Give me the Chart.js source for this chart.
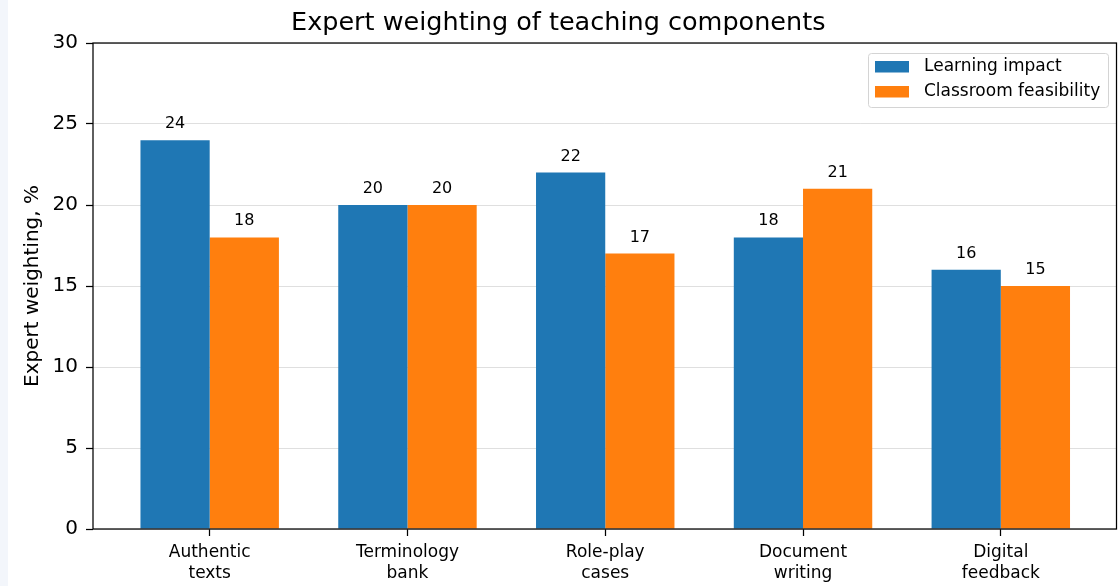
<!DOCTYPE html>
<html>
<head>
<meta charset="utf-8">
<script src="https://cdn.jsdelivr.net/npm/chart.js@4.4.1/dist/chart.umd.min.js"></script>
<style>
  html, body { margin: 0; padding: 0; }
  body { background: linear-gradient(to right, #f3f6fb 0 8px, #fff 8px); }
  #wrap { width: 1118px; height: 586px; }
</style>
</head>
<body>
<div id="wrap"><canvas id="chart"></canvas></div>
<script>
// Chart data
const categories = [['Authentic', 'texts'], ['Terminology', 'bank'], ['Role-play', 'cases'], ['Document', 'writing'], ['Digital', 'feedback']];
const learningImpact = [24, 20, 22, 18, 16];
const classroomFeasibility = [18, 20, 17, 21, 15];
const yTicks = [0, 5, 10, 15, 20, 25, 30];

const FONT = "'DejaVu Sans', sans-serif";

// value labels above each bar
const barLabels = {
    id: 'barLabels',
    afterDatasetsDraw(chart) {
        const ctx = chart.ctx;
        ctx.save();
        ctx.font = '16px ' + FONT;
        ctx.fillStyle = '#000';
        ctx.textAlign = 'center';
        ctx.textBaseline = 'alphabetic';
        chart.data.datasets.forEach((ds, i) => {
            chart.getDatasetMeta(i).data.forEach((bar, j) => {
                ctx.fillText(String(ds.data[j].y), bar.x, bar.y - 12);
            });
        });
        ctx.restore();
    }
};

// axes frame + legend box in the upper right
const frameAndLegend = {
    id: 'frameAndLegend',
    afterDraw(chart) {
        const ctx = chart.ctx;
        const a = chart.chartArea;
        ctx.save();
        ctx.strokeStyle = '#000';
        ctx.lineWidth = 1.25;
        ctx.strokeRect(a.left, a.top, a.right - a.left, a.bottom - a.top);

        // legend
        const x = 868.5, y = 53.5, w = 240, h = 54, r = 3;
        ctx.beginPath();
        ctx.roundRect(x, y, w, h, r);
        ctx.fillStyle = 'rgba(255,255,255,0.8)';
        ctx.fill();
        ctx.strokeStyle = '#d4d4d4';
        ctx.lineWidth = 1;
        ctx.stroke();
        ctx.font = '17px ' + FONT;
        ctx.textBaseline = 'middle';
        ctx.textAlign = 'left';
        chart.data.datasets.forEach((ds, i) => {
            const rowY = 66.5 + i * 25;
            ctx.fillStyle = ds.backgroundColor;
            ctx.fillRect(875, rowY - 5.5, 34, 11.5);
            ctx.fillStyle = '#000';
            ctx.fillText(ds.label, 924, rowY);
        });
        ctx.restore();
    }
};

new Chart(document.getElementById('chart'), {
    type: 'bar',
    data: {
        datasets: [
            {
                label: 'Learning impact',
                data: learningImpact.map((v, i) => ({ x: i, y: v })),
                backgroundColor: '#1f77b4'
            },
            {
                label: 'Classroom feasibility',
                data: classroomFeasibility.map((v, i) => ({ x: i, y: v })),
                backgroundColor: '#ff7f0e'
            }
        ]
    },
    options: {
        responsive: true,
        maintainAspectRatio: false,
        animation: false,
        categoryPercentage: 0.7,
        barPercentage: 1.0,
        layout: { padding: { left: 0, right: 1.5, top: 0, bottom: 0 } },
        plugins: {
            legend: { display: false },
            tooltip: { enabled: false },
            title: {
                display: true,
                text: 'Expert weighting of teaching components',
                color: '#000',
                font: { family: FONT, size: 25.5, weight: 'normal' },
                padding: { top: 8, bottom: 4.4 }
            }
        },
        scales: {
            x: {
                type: 'linear',
                offset: false,
                min: -0.59,
                max: 4.585,
                afterBuildTicks: axis => { axis.ticks = categories.map((_, i) => ({ value: i })); },
                afterFit: scale => { scale.height = 57; },
                border: { display: false },
                grid: { offset: false, drawOnChartArea: false, drawTicks: true, tickLength: 7, tickColor: '#000', tickWidth: 1.25 },
                ticks: {
                    color: '#000',
                    padding: 6.5,
                    maxRotation: 0,
                    autoSkip: false,
                    font: { family: FONT, size: 17, lineHeight: 1.2 },
                    callback: v => categories[v]
                }
            },
            y: {
                min: 0,
                max: 30,
                z: 1,
                afterBuildTicks: axis => { axis.ticks = yTicks.map(v => ({ value: v })); },
                afterFit: scale => { scale.width = 93; },
                border: { display: false },
                grid: {
                    color: 'rgba(176,176,176,0.4)',
                    lineWidth: 1,
                    tickLength: 7,
                    tickColor: '#000',
                    tickWidth: 1.25
                },
                title: {
                    display: true,
                    text: 'Expert weighting, %',
                    color: '#000',
                    font: { family: FONT, size: 20, lineHeight: 1.2 },
                    padding: { top: 21, bottom: 0 }
                },
                ticks: {
                    color: '#000',
                    padding: 8,
                    font: { family: FONT, size: 20 }
                }
            }
        }
    },
    plugins: [barLabels, frameAndLegend]
});
</script>
</body>
</html>
